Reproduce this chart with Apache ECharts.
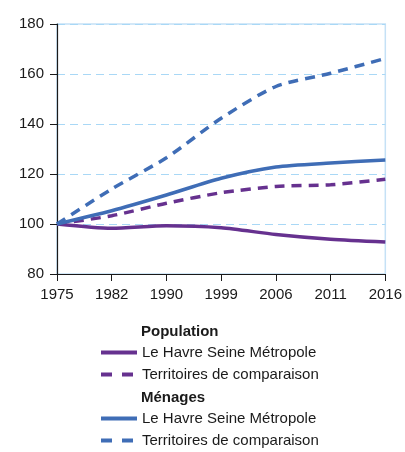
<!DOCTYPE html>
<html><head><meta charset="utf-8">
<script src="https://cdn.jsdelivr.net/npm/echarts@6/dist/echarts.min.js"></script>
<style>html,body{margin:0;padding:0;background:#fff}#c{width:405px;height:452px}</style>
</head><body><div id="c"></div>
<script>
var years = ['1975','1982','1990','1999','2006','2011','2016'];
var popLeHavre = [100, 98.3, 99.3, 98.5, 95.8, 93.9, 92.8];
var popComparaison = [100, 103.3, 108.3, 112.5, 115.0, 115.7, 117.9];
var menLeHavre = [100, 105.3, 111.6, 118.3, 122.8, 124.4, 125.6];
var menComparaison = [100, 114.0, 126.5, 142.3, 155.0, 160.3, 166.2];
var yTicks = [80, 100, 120, 140, 160, 180];
var groupTitles = ['Population', 'Ménages'];
var itemLabels = ['Le Havre Seine Métropole', 'Territoires de comparaison'];

var purple = '#66318f', blue = '#3f6db6';
var font = 'Liberation Sans, Arial, sans-serif';
var dash = [10, 7];

function ser(id, data, color, dashed) {
  return {
    name: id, type: 'line', data: data, symbol: 'none', smooth: 0.25,
    lineStyle: { color: color, width: 3.5, type: dashed ? dash : 'solid' },
    itemStyle: { color: color }, z: dashed ? 3 : 4
  };
}
var labelMap = { P1: itemLabels[0], P2: itemLabels[1], M1: itemLabels[0], M2: itemLabels[1] };

function mkLegend(top, solidName, dashedName) {
  return {
    show: true, orient: 'vertical', left: 99, top: top, padding: 0,
    itemWidth: 36, itemHeight: 14, itemGap: 7,
    selectedMode: false,
    itemStyle: { opacity: 0 },
    lineStyle: { width: 4 },
    data: [
      { name: solidName },
      { name: dashedName, lineStyle: { type: [11, 10], width: 4 } }
    ],
    textStyle: { fontFamily: font, fontSize: 15, color: '#1a1a1a' },
    formatter: function (n) { return labelMap[n]; }
  };
}

var chart = echarts.init(document.getElementById('c'));
chart.setOption({
  animation: false,
  grid: { left: 57, right: 13, top: 24, bottom: 178, show: true, borderColor: '#c5e1f6', borderWidth: 1.5, backgroundColor: 'transparent' },
  xAxis: {
    type: 'category', data: years, boundaryGap: false,
    axisLine: { lineStyle: { color: '#1a1a1a', width: 1.2 } },
    axisTick: { show: true, length: 7, lineStyle: { color: '#1a1a1a' } },
    axisLabel: { fontFamily: font, fontSize: 15, color: '#1a1a1a', margin: 13 },
    splitLine: { show: false }
  },
  yAxis: {
    type: 'value', min: yTicks[0], max: yTicks[yTicks.length - 1], interval: 20,
    axisLine: { show: true, lineStyle: { color: '#1a1a1a', width: 1.2 } },
    axisTick: { show: true, length: 7, lineStyle: { color: '#1a1a1a' } },
    axisLabel: { fontFamily: font, fontSize: 15, color: '#1a1a1a', margin: 13 },
    splitLine: { show: true, lineStyle: { color: '#a9d8f6', type: [8, 5], width: 1 } }
  },
  legend: [ mkLegend(345, 'P1', 'P2'), mkLegend(411, 'M1', 'M2') ],
  graphic: [
    { type: 'text', left: 141, top: 324, style: { text: groupTitles[0], font: 'bold 15px ' + font, fill: '#1a1a1a' } },
    { type: 'text', left: 141, top: 390, style: { text: groupTitles[1], font: 'bold 15px ' + font, fill: '#1a1a1a' } }
  ],
  series: [
    ser('P1', popLeHavre, purple, false),
    ser('P2', popComparaison, purple, true),
    ser('M1', menLeHavre, blue, false),
    ser('M2', menComparaison, blue, true)
  ]
});
</script></body></html>
